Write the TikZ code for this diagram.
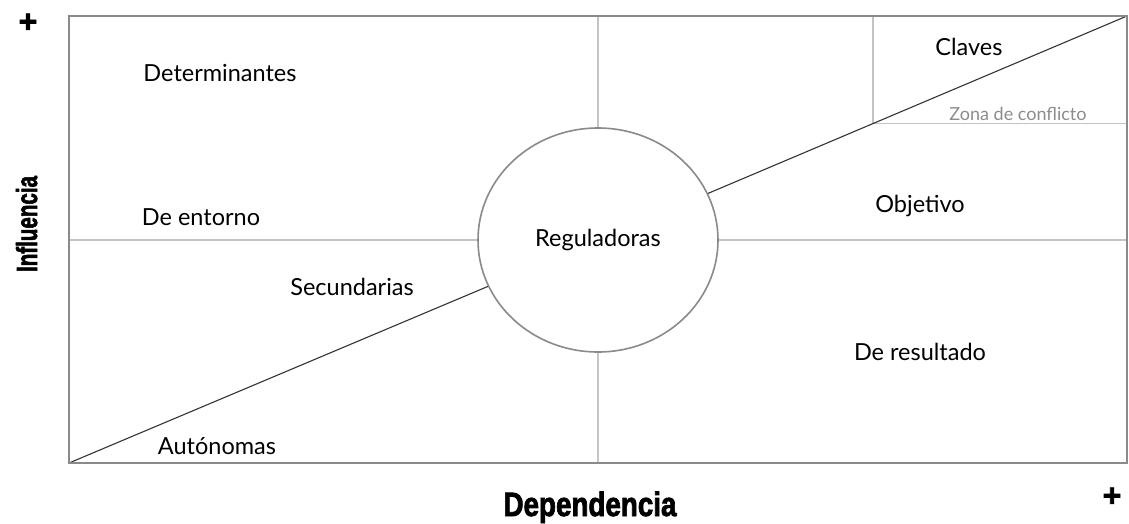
\documentclass[tikz,border=0pt]{standalone}
\usepackage{fontspec}
\setmainfont{Lato}
\newfontfamily\impactfont[FakeBold=2.5]{Liberation Sans}
\newfontfamily\plusfont[FakeBold=2]{Liberation Sans}
\usetikzlibrary{shapes.geometric}
\definecolor{outer}{HTML}{8A8A8A}
\definecolor{inner}{HTML}{C4C4C4}
\definecolor{diag}{HTML}{333333}
\definecolor{zona}{HTML}{8C8C8C}
\tikzset{
  lbl/.style={font=\fontsize{23.5}{25}\selectfont, text=black, inner sep=0pt},
  innerline/.style={draw=inner, line width=1.2pt},
  diagline/.style={draw=diag, line width=1.1pt},
  axislbl/.style={inner sep=0pt, text=black},
  plussign/.style={inner sep=0pt, font=\plusfont\bfseries\fontsize{32}{32}\selectfont}
}
\begin{document}
\begin{tikzpicture}[x=1pt,y=-1pt]
\useasboundingbox (0,0) rectangle (1129,523);
% corners and anchor points
\coordinate (tl) at (69,16);
\coordinate (tr) at (1127,16);
\coordinate (bl) at (69,463);
\coordinate (br) at (1127,463);
\coordinate (mt) at (598,16);
\coordinate (mb) at (598,463);
\coordinate (ml) at (69,240);
\coordinate (mr) at (1127,240);
\coordinate (ct) at (873,16);
\coordinate (cc) at (873,123.5);
\coordinate (cr) at (1127,123.5);
% central ellipse
\node[ellipse, draw=outer, line width=1.6pt, minimum width=240, minimum height=224, inner sep=0pt, font=\fontsize{23.5}{25}\selectfont] (reg) at (598,240) {Reguladoras};
% inner grid lines
\draw[innerline] (mt) -- (reg.north);
\draw[innerline] (reg.south) -- (mb);
\draw[innerline] (ml) -- (reg.west);
\draw[innerline] (reg.east) -- (mr);
\draw[innerline] (ct) -- (cc) -- (cr);
% diagonal
\draw[diagline] (bl) -- (reg);
\draw[diagline] (reg) -- (tr);
% outer frame
\draw[draw=outer, line width=2pt] (tl) rectangle (br);
% labels
\node[lbl] (det) at (220,73) {Determinantes};
\node[lbl] (ent) at (201,217) {De entorno};
\node[lbl] (sec) at (352,287) {Secundarias};
\node[lbl] (aut) at (217,446) {Autónomas};
\node[lbl] (cla) at (969,47) {Claves};
\node[inner sep=0pt, text=zona, font=\fontsize{18}{20}\selectfont] (zon) at (1018,114) {Zona de conflicto};
\node[lbl] (obj) at (920,206) {Objetivo};
\node[lbl] (res) at (920,352) {De resultado};
% axis titles
\node[axislbl, anchor=base] (dep) at (590,516) {\resizebox{173pt}{24.5pt}{\impactfont\bfseries Dependencia}};
\node[axislbl, anchor=base, rotate=90] (inf) at (37,224) {\resizebox{96pt}{21pt}{\impactfont\bfseries Influencia}};
% plus signs
\node[plussign] (p1) at (28,23) {+};
\node[plussign] (p2) at (1112,497) {+};
\end{tikzpicture}
\end{document}
